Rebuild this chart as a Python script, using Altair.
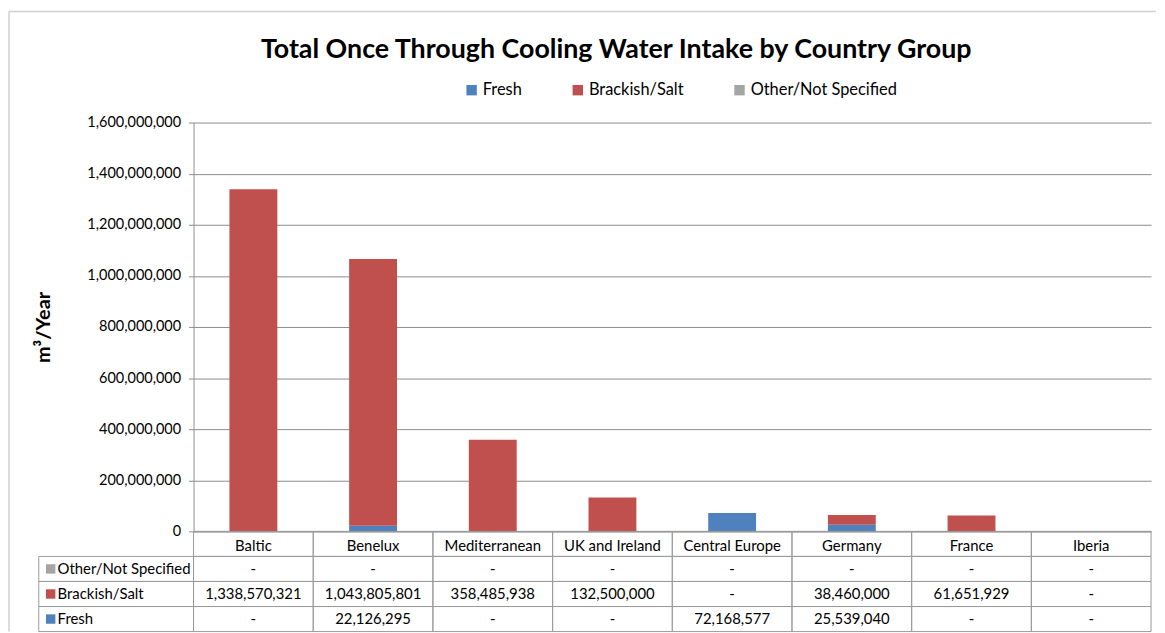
import altair as alt
import pandas as pd

# ---------------- data ----------------
categories = ["Baltic", "Benelux", "Mediterranean", "UK and Ireland",
              "Central Europe", "Germany", "France", "Iberia"]
series_names = ["Fresh", "Brackish/Salt", "Other/Not Specified"]
series_colors = ["#4F81BD", "#C0504D", "#A5A5A5"]
fresh = [0, 22126295, 0, 0, 72168577, 25539040, 0, 0]
brackish = [1338570321, 1043805801, 358485938, 132500000, 0, 38460000, 61651929, 0]
other = [0, 0, 0, 0, 0, 0, 0, 0]
y_ticks = [0, 200000000, 400000000, 600000000, 800000000,
           1000000000, 1200000000, 1400000000, 1600000000]
table_rows = ["Other/Not Specified", "Brackish/Salt", "Fresh"]

# ---------------- layout constants ----------------
W, H = 965, 412
TABLE_H = 101
FONT = "Lato"
GRID = "#8c8c8c"
LINE = "#9a9a9a"
FRAME = "#d0d0d0"

series_values = {"Fresh": fresh, "Brackish/Salt": brackish, "Other/Not Specified": other}

bar_rows = []
for i, name in enumerate(series_names):
    for c, v in zip(categories, series_values[name]):
        bar_rows.append({"category": c, "series": name, "value": v, "order": i})
bars_df = pd.DataFrame(bar_rows)

row_domain = ["header"] + table_rows
cell_rows = []
for c in categories:
    cell_rows.append({"category": c, "row": "header", "text": ""})
for r in table_rows:
    for c, v in zip(categories, series_values[r]):
        cell_rows.append({"category": c, "row": r, "text": f"{v:,}" if v else "-"})
cells_df = pd.DataFrame(cell_rows)

label_df = pd.DataFrame({
    "row": table_rows,
    "color": [series_colors[series_names.index(r)] for r in table_rows],
})

# ---------------- bars ----------------
bars = alt.Chart(bars_df).transform_filter("datum.value > 0").mark_bar().encode(
    x=alt.X("category:N", sort=categories,
            scale=alt.Scale(domain=categories, paddingInner=0.6, paddingOuter=0.3),
            axis=alt.Axis(title=None, labelAngle=0, ticks=False, tickSize=0,
                          labelPadding=14, labelBaseline="middle",
                          labelFont=FONT, labelFontSize=15, labelColor="#000000",
                          domainColor=GRID, grid=False)),
    y=alt.Y("value:Q", stack="zero",
            scale=alt.Scale(domain=[0, 1600000000], nice=False),
            axis=alt.Axis(values=y_ticks, format=",d", title="m³/Year",
                          titleFont=FONT, titleFontSize=20, titleFontWeight="bold",
                          titleColor="#000000", titlePadding=34,
                          labelFont=FONT, labelFontSize=14.6, labelColor="#000000",
                          labelPadding=8, tickSize=5, tickColor=GRID,
                          domainColor=GRID, gridColor=GRID, grid=True)),
    color=alt.Color("series:N",
                    scale=alt.Scale(domain=series_names, range=series_colors),
                    legend=alt.Legend(title=None, orient="none", direction="horizontal",
                                      legendX=272, legendY=-41,
                                      symbolType="square", symbolSize=110,
                                      symbolStrokeWidth=0, labelFont=FONT,
                                      labelFontSize=16.5, labelColor="#000000",
                                      columnPadding=48, labelOffset=3)),
    order=alt.Order("order:Q"),
)

# ---------------- table ----------------
tx = alt.X("category:N", sort=categories,
           scale=alt.Scale(domain=categories, paddingInner=0, paddingOuter=0),
           axis=None)
ty = alt.Y("row:N", sort=row_domain,
           scale=alt.Scale(domain=row_domain, range=[H, H + TABLE_H],
                           paddingInner=0, paddingOuter=0),
           axis=None)

cells = alt.Chart(cells_df).mark_rect(fillOpacity=0, stroke=LINE, strokeWidth=1).encode(
    x=tx, y=ty)
cell_text = alt.Chart(cells_df).mark_text(font=FONT, fontSize=15, color="#000000").encode(
    x=tx, y=ty, text="text:N")

label_cells = alt.Chart(label_df).mark_rect(fillOpacity=0, stroke=LINE, strokeWidth=1).encode(
    x=alt.value(-156), x2=alt.value(0), y=ty)
label_squares = alt.Chart(label_df).mark_square(size=90, opacity=1).encode(
    x=alt.value(-144), y=ty, fill=alt.Fill("color:N", scale=None))
label_text = alt.Chart(label_df).mark_text(font=FONT, fontSize=15, color="#000000",
                                           align="left").encode(
    x=alt.value(-137), y=ty, text="row:N")

# ---------------- title & frame ----------------
title_df = pd.DataFrame({"t": ["Total Once Through Cooling Water Intake by Country Group"]})
title = alt.Chart(title_df).mark_text(font=FONT, fontSize=27, fontWeight="bold",
                                      color="#000000", align="center",
                                      baseline="middle").encode(
    x=alt.value(426), y=alt.value(-73), text="t:N")

one = pd.DataFrame({"a": [0]})
frame_top = alt.Chart(one).mark_rule(color=FRAME, strokeWidth=1.5).encode(
    x=alt.value(-186), x2=alt.value(970), y=alt.value(-112))
frame_left = alt.Chart(one).mark_rule(color=FRAME, strokeWidth=1.5).encode(
    x=alt.value(-186), y=alt.value(-112), y2=alt.value(513))

chart = alt.layer(
    frame_top, frame_left, bars, cells, cell_text,
    label_cells, label_squares, label_text, title,
).resolve_scale(
    x="independent", y="independent"
).properties(
    width=W, height=H, padding=0, background="#ffffff"
).configure_view(strokeWidth=0)

chart.save("out.html", embed_options={"renderer": "svg", "actions": False})
